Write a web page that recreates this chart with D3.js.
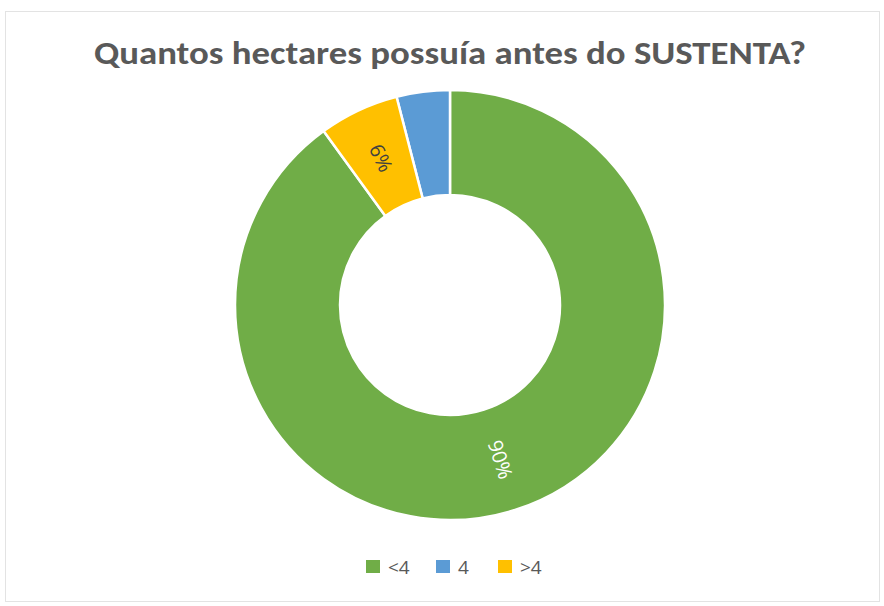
<!DOCTYPE html>
<html>
<head>
<meta charset="utf-8">
<script src="https://cdn.jsdelivr.net/npm/d3@7"></script>
<style>
	body { margin:0; background:#fff; }
	svg text { font-family: Calibri, Carlito, "Open Sans", "Liberation Sans", sans-serif; }
	svg text.num { font-family: "Open Sans", "Liberation Sans", sans-serif; }
</style>
</head>
<body>
<div id="chart"></div>
<script>

// data
var title = "Quantos hectares possuía antes do SUSTENTA?";
var categories = ["<4", "4", ">4"];
var values = [90, 4, 6];
var colors = ["#70AD47", "#5B9BD5", "#FFC000"];
var labelColors = ["#ffffff", "#ffffff", "#404040"];
// clockwise order of the slices from 12 o'clock
var sliceOrder = ["<4", ">4", "4"];

var W = 884, H = 606;
var cx = 450, cy = 305;
var outerR = 215, innerR = 110;

var svg = d3.select("#chart").append("svg")
	.attr("width", W)
	.attr("height", H);

// chart frame
svg.append("rect")
	.attr("x", 5.5).attr("y", 11.5)
	.attr("width", 874).attr("height", 590)
	.attr("fill", "#fff")
	.attr("stroke", "#e3e3e3");

// title
svg.append("text")
	.attr("x", 450)
	.attr("y", 64)
	.attr("text-anchor", "middle")
	.attr("font-size", 32)
	.attr("font-weight", "bold")
	.attr("fill", "#595959")
	.attr("textLength", 712)
	.attr("lengthAdjust", "spacingAndGlyphs")
	.text(title);

var color = d3.scaleOrdinal().domain(categories).range(colors);
var labelColor = d3.scaleOrdinal().domain(categories).range(labelColors);

var slices = categories.map(function(c, i){ return {name:c, value:values[i]}; });

var pie = d3.pie()
	.value(function(d){ return d.value; })
	.sort(function(a, b){ return sliceOrder.indexOf(a.name) - sliceOrder.indexOf(b.name); });

var arc = d3.arc().innerRadius(innerR).outerRadius(outerR);
var labelArc = d3.arc().innerRadius((innerR+outerR)/2).outerRadius((innerR+outerR)/2);

var g = svg.append("g").attr("transform", "translate(" + cx + "," + cy + ")");
var arcs = pie(slices);

g.selectAll("path")
	.data(arcs)
	.enter().append("path")
	.attr("d", arc)
	.attr("fill", function(d){ return color(d.data.name); })
	.attr("stroke", "#fff")
	.attr("stroke-width", 2.5);

// radial labels (small slices below 5% get none, like the original)
g.selectAll("text.lbl")
	.data(arcs.filter(function(d){ return d.data.value >= 5; }))
	.enter().append("text")
	.attr("class", "lbl num")
	.attr("transform", function(d){
		var c = labelArc.centroid(d);
		var a = (d.startAngle + d.endAngle) / 2 * 180 / Math.PI - 90;
		if(a > 90) a -= 180;
		if(a < -90) a += 180;
		return "translate(" + c[0] + "," + c[1] + ") rotate(" + a + ")";
	})
	.attr("text-anchor", "middle")
	.attr("dy", "0.35em")
	.attr("font-size", 20)
	.attr("fill", function(d){ return labelColor(d.data.name); })
	.text(function(d){ return d.data.value + "%"; });

// legend
var legendX = [366, 436, 498];
var legend = svg.append("g").selectAll("g")
	.data(categories)
	.enter().append("g")
	.attr("transform", function(d, i){ return "translate(" + legendX[i] + ",560)"; });
legend.append("rect")
	.attr("width", 14).attr("height", 13)
	.attr("fill", function(d){ return color(d); });
legend.append("text")
	.attr("class", "num")
	.attr("x", 22)
	.attr("y", 13.5)
	.attr("font-size", 19)
	.attr("fill", "#595959")
	.text(function(d){ return d; });

</script>
</body>
</html>
